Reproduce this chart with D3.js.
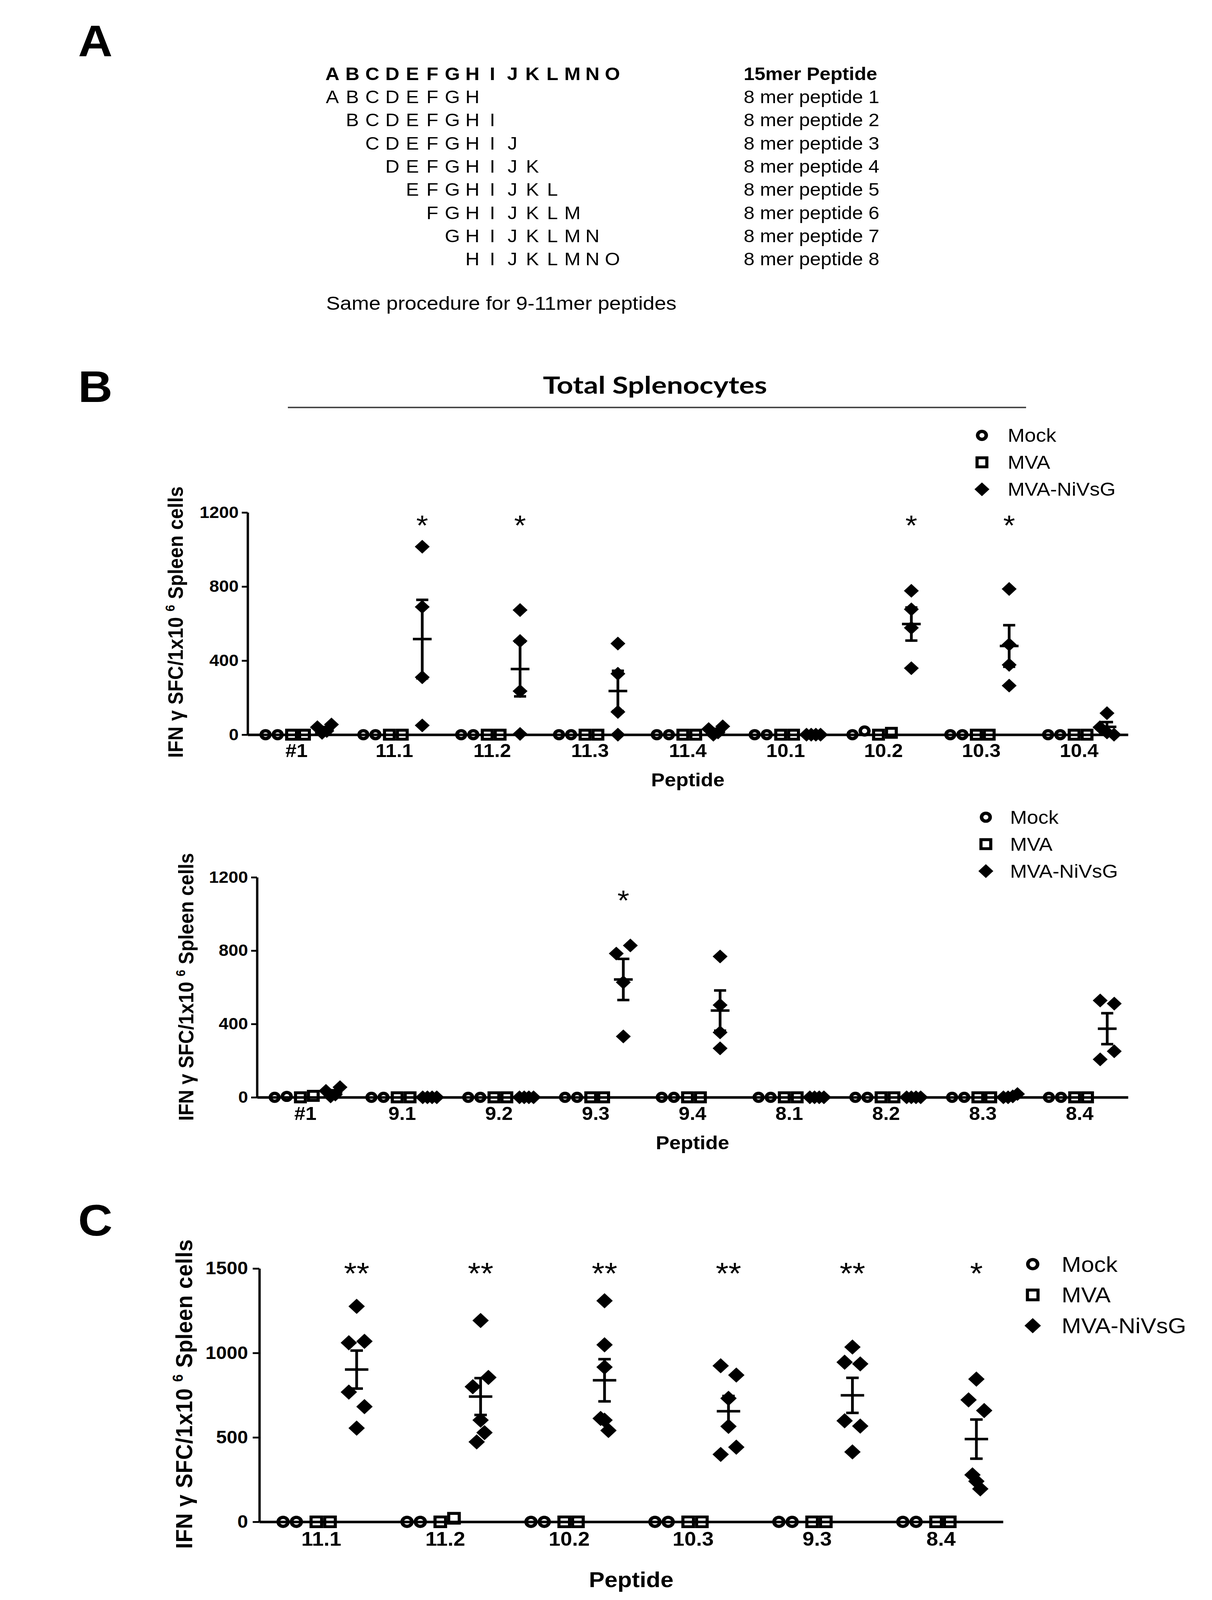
<!DOCTYPE html>
<html>
<head>
<meta charset="utf-8">
<script src="https://cdn.jsdelivr.net/npm/d3@7"></script>
<style>
  html, body { margin: 0; padding: 0; background: #fff; overflow: hidden; }
  svg { display: block; }
  text { font-family: "Liberation Sans", Arial, sans-serif; fill: #000; }
</style>
</head>
<body>
<svg id="fig"></svg>
<script>
// ---------- panel A : the peptide scheme ----------
var letters15 = "ABCDEFGHIJKLMNO".split("");
var peptideLabels = ["15mer Peptide", "8 mer peptide 1", "8 mer peptide 2", "8 mer peptide 3",
  "8 mer peptide 4", "8 mer peptide 5", "8 mer peptide 6", "8 mer peptide 7", "8 mer peptide 8"];
var noteA = "Same procedure for 9-11mer peptides";

// ---------- panel B, upper plot ----------
var catsTop = ["#1", "11.1", "11.2", "11.3", "11.4", "10.1", "10.2", "10.3", "10.4"];
var mockTop = [[0, 0], [0, 0], [0, 0], [0, 0], [0, 0], [0, 0], [0, 20], [0, 0], [0, 0]];
var mvaTop = [[0, 0], [0, 0], [0, 0], [0, 0], [0, 0], [0, 0], [0, 10], [0, 0], [0, 0]];
var nivTop = [[40, 10, 20, 55], [1015, 690, 310, 50], [673, 506, 235, 4], [492, 329, 123, 0],
  [30, 0, 12, 45], [0, 0, 0, 0], [777, 677, 577, 359], [787, 487, 377, 265], [116, 40, 12, 0]];
var starsTop = ["", "*", "*", "", "", "", "*", "*", ""];

// ---------- panel B, lower plot ----------
var catsBottom = ["#1", "9.1", "9.2", "9.3", "9.4", "8.1", "8.2", "8.3", "8.4"];
var mockBottom = [[0, 5], [0, 0], [0, 0], [0, 0], [0, 0], [0, 0], [0, 0], [0, 0], [0, 0]];
var mvaBottom = [[0, 8], [0, 0], [0, 0], [0, 0], [0, 0], [0, 0], [0, 0], [0, 0], [0, 0]];
var nivBottom = [[35, 5, 15, 55], [0, 0, 0, 0], [0, 0, 0, 0], [784, 828, 627, 332],
  [768, 503, 354, 267], [0, 0, 0, 0], [0, 0, 0, 0], [0, 0, 5, 18], [528, 511, 207, 251]];
var starsBottom = ["", "", "", "*", "", "", "", "", ""];

// ---------- panel C ----------
var catsC = ["11.1", "11.2", "10.2", "10.3", "9.3", "8.4"];
var mockC = [[0, 0], [0, 0], [0, 0], [0, 0], [0, 0], [0, 0]];
var mvaC = [[0, 0], [0, 21], [0, 0], [0, 0], [0, 0], [0, 0]];
var nivC = [[1276, 1060, 1069, 768, 682, 555], [1192, 800, 855, 473, 602, 528],
  [1309, 1048, 916, 612, 602, 541], [924, 869, 731, 565, 399, 442],
  [1035, 945, 935, 598, 567, 414], [845, 722, 659, 278, 240, 195]];
var starsC = ["**", "**", "**", "**", "**", "*"];

var groupNames = ["Mock", "MVA", "MVA-NiVsG"];

// the figure is laid out on a 3103 x 4421 canvas and stretched onto whatever the window shows
var W = 3103, H = 4421;
var vw = window.innerWidth || W, vh = window.innerHeight || H;
var svg = d3.select("#fig").attr("width", vw).attr("height", vh)
  .attr("viewBox", "0 0 " + W + " " + H).attr("preserveAspectRatio", "none");
svg.append("rect").attr("width", W).attr("height", H).attr("fill", "white");

// panel letters
[["A", 155], ["B", 1111], ["C", 3414]].forEach(function (d) {
  svg.append("text").attr("x", 200).attr("y", d[1])
    .attr("font-size", 122).attr("font-weight", "bold").text(d[0]);
});

// ---- panel A ----
var slot = d3.scaleLinear().domain([0, 14]).range([851, 1568]);
var rowY = d3.scaleLinear().domain([0, 8]).range([221, 733]);
d3.range(9).forEach(function (r) {
  var start = r == 0 ? 0 : r - 1;
  var letters = r == 0 ? letters15 : letters15.slice(start, start + 8);
  svg.selectAll(null).data(letters).enter().append("text")
    .attr("x", (d, i) => slot(start + i))
    .attr("y", rowY(r))
    .attr("text-anchor", "middle")
    .attr("font-size", 50)
    .attr("font-weight", r == 0 ? "bold" : "normal")
    .text(d => d);
  svg.append("text").attr("x", 1904).attr("y", rowY(r))
    .attr("font-size", 50).attr("font-weight", r == 0 ? "bold" : "normal")
    .text(peptideLabels[r]);
});
svg.append("text").attr("x", 835).attr("y", 856).attr("font-size", 52)
  .attr("textLength", 897).attr("lengthAdjust", "spacingAndGlyphs").text(noteA);

// ---- panel B header ----
svg.append("text").attr("x", 1677).attr("y", 1088).attr("text-anchor", "middle")
  .style("font-family", "Lato, 'Open Sans', sans-serif")
  .attr("font-size", 66).attr("font-weight", "bold")
  .attr("textLength", 574).attr("lengthAdjust", "spacingAndGlyphs")
  .text("Total Splenocytes");
svg.append("line").attr("x1", 737).attr("x2", 2627).attr("y1", 1126).attr("y2", 1126)
  .attr("stroke", "#444").attr("stroke-width", 4);

// points that would overlap are fanned out sideways, like a column scatter
function spread(vals, y, size, span) {
  var order = d3.range(vals.length).sort((a, b) => vals[b] - vals[a]);
  var clusters = [], cur = [order[0]];
  for (var k = 1; k < order.length; k++) {
    if (Math.abs(y(vals[order[k]]) - y(vals[order[k - 1]])) < size) cur.push(order[k]);
    else { clusters.push(cur); cur = [order[k]]; }
  }
  clusters.push(cur);
  var off = vals.map(() => 0);
  clusters.forEach(function (c) {
    // a tall run of 3+ points only needs a narrow fan
    var ext = d3.extent(c, i => y(vals[i]));
    var w = (c.length > 2 && ext[1] - ext[0] > 0.7 * size) ? span / 2 : span;
    c.sort((a, b) => a - b);
    var step = c.length > 1 ? Math.min(size, w / (c.length - 1)) : 0;
    c.forEach((idx, j) => off[idx] = (j - (c.length - 1) / 2) * step);
  });
  return vals.map((v, i) => ({ v: v, dx: off[i] }));
}

function marker(sel, kind, p) {
  if (kind == "circle") {
    sel.attr("d", d3.symbol(d3.symbolCircle, Math.PI * p.circleR * p.circleR)())
      .attr("fill", "none").attr("stroke", "#000").attr("stroke-width", 9);
  } else if (kind == "square") {
    sel.attr("d", d3.symbol(d3.symbolSquare, p.sq * p.sq)())
      .attr("fill", "none").attr("stroke", "#000").attr("stroke-width", 8);
  } else {
    sel.attr("d", d3.symbol(d3.symbolSquare, p.dia * p.dia)())
      .attr("fill", "#000");
  }
}

function drawPanel(p) {
  var g = svg.append("g");
  var x = d3.scaleBand().domain(p.cats).range([p.left, p.right]);
  var sub = d3.scalePoint().domain(groupNames)
    .range([0.245 * x.bandwidth(), 0.785 * x.bandwidth()]);
  var y = d3.scaleLinear().domain([0, p.ymax]).range([p.bottom, p.top]);

  var ya = g.append("g")
    .attr("transform", "translate(" + p.left + ",0)")
    .call(d3.axisLeft(y).tickValues(p.yticks).tickFormat(d3.format("d"))
      .tickSize(p.tick).tickSizeOuter(0).tickPadding(p.tickPad));
  ya.select(".domain").attr("stroke-width", 6);
  ya.selectAll(".tick line").attr("stroke-width", 5);
  ya.selectAll(".tick text").attr("font-size", p.yFont).attr("font-weight", "bold");

  var xa = g.append("g")
    .attr("transform", "translate(0," + p.bottom + ")")
    .call(d3.axisBottom(x).tickSize(0).tickSizeOuter(0).tickPadding(p.xPad));
  xa.select(".domain").attr("stroke-width", 7);
  xa.selectAll(".tick text").attr("font-size", p.xFont).attr("font-weight", "bold");

  var series = [
    { name: "Mock", data: p.mock, kind: "circle" },
    { name: "MVA", data: p.mva, kind: "square" },
    { name: "MVA-NiVsG", data: p.niv, kind: "diamond" }
  ];

  series.forEach(function (s) {
    s.data.forEach(function (vals, ci) {
      var cx = x(p.cats[ci]) + sub(s.name);
      var pts = spread(vals, y, p.sz[s.kind], p.span);
      g.selectAll(null).data(pts).enter().append("path")
        .call(marker, s.kind, p)
        .attr("transform", d => "translate(" + (cx + d.dx) + "," + y(d.v) + ")" +
          (s.kind == "diamond" ? " rotate(45)" : ""));

      if (s.kind == "diamond") {
        // mean with SEM
        var m = d3.mean(vals), se = d3.deviation(vals) / Math.sqrt(vals.length);
        var bar = g.append("g").attr("stroke", "#000").attr("stroke-width", 7);
        bar.append("line").attr("x1", cx).attr("x2", cx).attr("y1", y(m - se)).attr("y2", y(m + se));
        [m - se, m + se].forEach(function (v) {
          bar.append("line").attr("x1", cx - p.capW / 2).attr("x2", cx + p.capW / 2)
            .attr("y1", y(v)).attr("y2", y(v));
        });
        bar.append("line").attr("x1", cx - p.meanW / 2).attr("x2", cx + p.meanW / 2)
          .attr("y1", y(m)).attr("y2", y(m));

        if (p.stars[ci]) {
          g.append("text").attr("x", cx).attr("y", p.starY + 0.59 * p.starFont)
            .attr("text-anchor", "middle").attr("font-size", p.starFont)
            .text(p.stars[ci]);
        }
      }
    });
  });

  // legend
  groupNames.forEach(function (name, i) {
    var ly = p.legY + i * p.legDy;
    g.append("path").call(marker, series[i].kind, p)
      .attr("transform", "translate(" + p.legX + "," + ly + ")" + (i == 2 ? " rotate(45)" : ""));
    g.append("text").attr("x", p.legTextX).attr("y", ly).attr("dy", "0.35em")
      .attr("font-size", p.legFont).text(name);
  });

  // axis titles
  var t = g.append("text")
    .attr("transform", "translate(" + p.titleX + "," + p.titleY + ") rotate(-90)")
    .attr("text-anchor", "middle").attr("font-size", p.titleFont).attr("font-weight", "bold")
    .attr("textLength", p.titleLen).attr("lengthAdjust", "spacing");
  t.append("tspan").text("IFN \u03b3 SFC/1x10 ");
  t.append("tspan").attr("dy", -0.4 * p.titleFont).attr("font-size", 0.62 * p.titleFont).text("6");
  t.append("tspan").attr("dy", 0.4 * p.titleFont).text(" Spleen cells");

  g.append("text").attr("x", (p.left + p.right) / 2).attr("y", p.labY)
    .attr("text-anchor", "middle").attr("font-size", p.labFont).attr("font-weight", "bold")
    .text("Peptide");
}

var styleB = {
  ymax: 1200, yticks: [0, 400, 800, 1200], tick: 15, tickPad: 8, yFont: 45, xFont: 51, xPad: 26,
  titleFont: 53, labFont: 52, starFont: 78, legFont: 52, legDy: 74.5,
  circleR: 11, sq: 25, dia: 27, sz: { circle: 31, square: 33, diamond: 38 }, span: 36,
  meanW: 48, capW: 31
};
var styleC = {
  ymax: 1500, yticks: [0, 500, 1000, 1500], tick: 17, tickPad: 12, yFont: 49, xFont: 54, xPad: 28,
  titleFont: 60, labFont: 60, starFont: 84, legFont: 60, legDy: 85,
  circleR: 12.5, sq: 27, dia: 29.7, sz: { circle: 34, square: 35, diamond: 42 }, span: 40,
  meanW: 60, capW: 32
};

drawPanel(Object.assign({}, styleB, {
  cats: catsTop, mock: mockTop, mva: mvaTop, niv: nivTop, stars: starsTop,
  left: 634, right: 2888, bottom: 2030, top: 1416,
  titleX: 468, titleY: 1719, titleLen: 750, labY: 2173, starY: 1433,
  legX: 2514, legTextX: 2580, legY: 1203
}));

drawPanel(Object.assign({}, styleB, {
  cats: catsBottom, mock: mockBottom, mva: mvaBottom, niv: nivBottom, stars: starsBottom,
  left: 658, right: 2888, bottom: 3032, top: 2424,
  titleX: 495, titleY: 2727, titleLen: 740, labY: 3175, starY: 2469,
  legX: 2524, legTextX: 2586, legY: 2258
}));

drawPanel(Object.assign({}, styleC, {
  cats: catsC, mock: mockC, mva: mvaC, niv: nivC, stars: starsC,
  left: 664, right: 2568, bottom: 4205, top: 3505,
  titleX: 492, titleY: 3852, titleLen: 855, labY: 4385, starY: 3498,
  legX: 2644, legTextX: 2718, legY: 3493
}));
</script>
</body>
</html>
